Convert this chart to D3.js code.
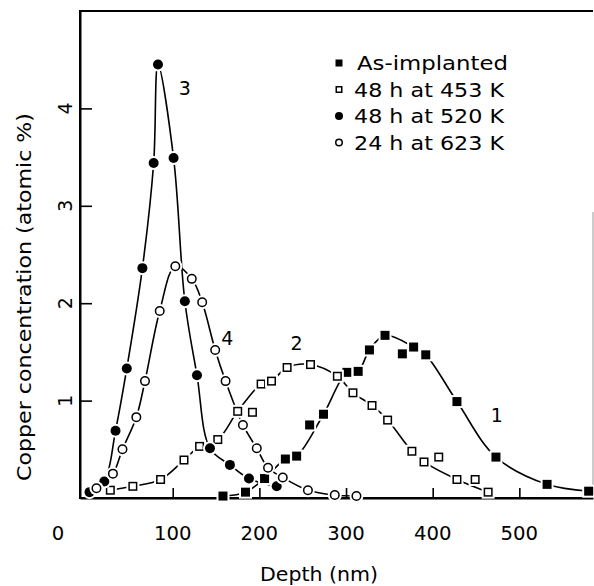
<!DOCTYPE html>
<html><head><meta charset="utf-8">
<script src="https://cdn.jsdelivr.net/npm/d3@7"></script>
<style>body{margin:0;background:#fff}svg{display:block}</style>
</head><body><svg id="c" width="594" height="586"></svg>
<script>
// ---- data ----
const xTickValues = [0, 100, 200, 300, 400, 500];
const yTickValues = [1, 2, 3, 4];
const xTitle = "Depth (nm)";
const yTitle = "Copper concentration (atomic %)";

// Series 1: As-implanted (filled squares)
const s1Depth = [158, 184, 206, 230, 243, 258, 274, 301, 314, 327, 345, 365, 378, 392, 428, 473, 532, 580];
const s1Conc  = [0.02, 0.06, 0.20, 0.40, 0.43, 0.75, 0.86, 1.29, 1.30, 1.52, 1.67, 1.48, 1.55, 1.47, 0.99, 0.42, 0.14, 0.07];
const s1OffCurve = [258, 365];

// Series 2: 48 h at 453 K (open squares)
const s2Depth = [28, 54, 86, 113, 131, 152, 175, 192, 202, 214, 232, 259, 290, 308, 330, 348, 376, 390, 407, 428, 449, 464];
const s2Conc  = [0.08, 0.12, 0.19, 0.39, 0.53, 0.60, 0.89, 0.88, 1.17, 1.20, 1.34, 1.37, 1.25, 1.08, 0.95, 0.80, 0.48, 0.37, 0.42, 0.19, 0.19, 0.06];
const s2OffCurve = [192, 407, 449];

// Series 3: 48 h at 520 K (filled circles)
const s3Depth = [4, 21, 34, 47, 65, 78, 83, 101, 114, 128, 143, 166, 188, 220];
const s3Conc  = [0.06, 0.17, 0.69, 1.33, 2.36, 3.44, 4.45, 3.49, 2.02, 1.26, 0.51, 0.34, 0.20, 0.12];
const s3OffCurve = [];

// Series 4: 24 h at 623 K (open circles)
const s4Depth = [12, 31, 42, 58, 68, 85, 103, 122, 134, 149, 161, 181, 197, 210, 227, 256, 287, 312];
const s4Conc  = [0.10, 0.25, 0.50, 0.83, 1.20, 1.92, 2.38, 2.25, 2.01, 1.52, 1.20, 0.75, 0.51, 0.31, 0.21, 0.08, 0.03, 0.02];
const s4OffCurve = [];

const legendLabels = ["As-implanted", "48 h at 453 K", "48 h at 520 K", "24 h at 623 K"];
const curveLabels = ["1", "2", "3", "4"];
const curveLabelDepth = [474, 243, 114, 163];
const curveLabelConc  = [0.85, 1.59, 4.21, 1.64];

// ---- drawing ----
const svg = d3.select("#c");
const L = 80, R = 593, T = 11, B = 498;
const x = d3.scaleLinear().domain([-7, 585]).range([L, R]);
const y = d3.scaleLinear().domain([0, 5]).range([B, T]);
const FONT = "'DejaVu Sans', sans-serif";

const series = [
  {d: s1Depth, c: s1Conc, off: s1OffCurve, shape: "square", fill: true},
  {d: s2Depth, c: s2Conc, off: s2OffCurve, shape: "square", fill: false},
  {d: s3Depth, c: s3Conc, off: s3OffCurve, shape: "circle", fill: true},
  {d: s4Depth, c: s4Conc, off: s4OffCurve, shape: "circle", fill: false}
];

// frame
svg.append("line").attr("x1", R).attr("x2", R).attr("y1", 212).attr("y2", B)
  .attr("stroke", "#999").attr("stroke-width", 1);
svg.append("line").attr("x1", L).attr("x2", R).attr("y1", T).attr("y2", T)
  .attr("stroke", "#000").attr("stroke-width", 2);

// axes
const gx = svg.append("g").attr("transform", `translate(0,${B})`)
  .call(d3.axisBottom(x).tickValues(xTickValues.filter(v => v > 0)).tickSizeInner(-10).tickSizeOuter(0).tickFormat(""));
const gy = svg.append("g").attr("transform", `translate(${L},0)`)
  .call(d3.axisLeft(y).tickValues(yTickValues).tickSizeInner(-12).tickSizeOuter(0).tickFormat(""));
[gx, gy].forEach(g => {
  g.select(".domain").attr("stroke", "#000").attr("stroke-width", 2);
  g.selectAll(".tick line").attr("stroke", "#000").attr("stroke-width", 1.6);
});
svg.append("line").attr("x1", L).attr("x2", L).attr("y1", T - 1).attr("y2", B + 1)
  .attr("stroke", "#000").attr("stroke-width", 2);
svg.append("line").attr("x1", L - 1).attr("x2", R).attr("y1", B).attr("y2", B)
  .attr("stroke", "#000").attr("stroke-width", 2);

// x tick labels
svg.selectAll(".xl").data(xTickValues).enter().append("text")
  .attr("x", v => x(v) + (v === 0 ? -28 : 0)).attr("y", 540)
  .attr("text-anchor", "middle").attr("font-family", FONT).attr("font-size", 19)
  .attr("textLength", v => String(v).length * 12.5).attr("lengthAdjust", "spacingAndGlyphs")
  .text(v => v);

// y tick labels (rotated)
svg.selectAll(".yl").data(yTickValues).enter().append("text")
  .attr("transform", v => `translate(72,${y(v)}) rotate(-90)`)
  .attr("text-anchor", "middle").attr("font-family", FONT).attr("font-size", 19)
  .text(v => v);

// titles
svg.append("text").attr("x", 319).attr("y", 581).attr("text-anchor", "middle")
  .attr("font-family", FONT).attr("font-size", 19)
  .attr("textLength", 118).attr("lengthAdjust", "spacingAndGlyphs").text(xTitle);
svg.append("text").attr("transform", "translate(31,297) rotate(-90)").attr("text-anchor", "middle")
  .attr("font-family", FONT).attr("font-size", 19)
  .attr("textLength", 368).attr("lengthAdjust", "spacingAndGlyphs").text(yTitle);

// curves
const line = d3.line().x(p => x(p[0])).y(p => y(p[1])).curve(d3.curveCatmullRom.alpha(0.5));
series.forEach(s => {
  const pts = s.d.map((d, i) => [d, s.c[i]]).filter(p => !s.off.includes(p[0]));
  svg.append("path").datum(pts).attr("d", line)
    .attr("fill", "none").attr("stroke", "#000").attr("stroke-width", 1.6);
});

// markers
function marker(g, shape, fill, cx, cy, size, halo) {
  if (halo) {
    if (shape === "circle") g.append("circle").attr("cx", cx).attr("cy", cy).attr("r", size / 2 + 2).attr("fill", "#fff");
    else g.append("rect").attr("x", cx - size / 2 - 2).attr("y", cy - size / 2 - 2).attr("width", size + 4).attr("height", size + 4).attr("fill", "#fff");
  }
  if (shape === "circle") {
    g.append("circle").attr("cx", cx).attr("cy", cy).attr("r", fill ? size / 2 : size / 2 - 0.75)
      .attr("fill", fill ? "#000" : "#fff").attr("stroke", fill ? "none" : "#000").attr("stroke-width", 1.5);
  } else {
    const sz = fill ? size : size - 1.5;
    g.append("rect").attr("x", cx - sz / 2).attr("y", cy - sz / 2).attr("width", sz).attr("height", sz)
      .attr("fill", fill ? "#000" : "#fff").attr("stroke", fill ? "none" : "#000").attr("stroke-width", 1.5);
  }
}
const mg = svg.append("g");
series.forEach(s => {
  s.d.forEach((d, i) => marker(mg, s.shape, s.fill, x(d), y(s.c[i]), s.shape === "circle" ? 10 : 9, true));
});

// curve labels
svg.selectAll(".cl").data(curveLabels).enter().append("text")
  .attr("x", (t, i) => x(curveLabelDepth[i])).attr("y", (t, i) => y(curveLabelConc[i]) + 7)
  .attr("text-anchor", "middle").attr("font-family", FONT).attr("font-size", 19).text(t => t);

// legend
const lg = svg.append("g");
legendLabels.forEach((t, i) => {
  const cy = 63 + i * 26.5;
  marker(lg, series[i].shape, series[i].fill, 339, cy, series[i].shape === "circle" ? 8 : 7, false);
  lg.append("text").attr("x", i === 0 ? 357 : 354).attr("y", cy + 7)
    .attr("font-family", FONT).attr("font-size", 19)
    .attr("textLength", i === 0 ? 151 : 150).attr("lengthAdjust", "spacingAndGlyphs").text(t);
});
</script></body></html>
